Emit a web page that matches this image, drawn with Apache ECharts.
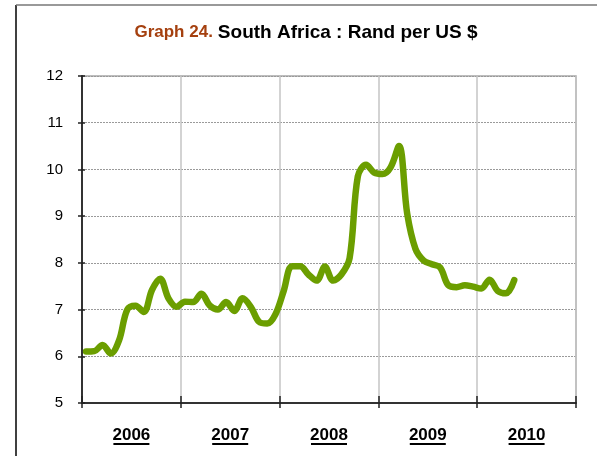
<!DOCTYPE html>
<html>
<head>
<meta charset="utf-8">
<script src="https://cdn.jsdelivr.net/npm/echarts@6/dist/echarts.min.js"></script>
<style>
html, body { margin: 0; padding: 0; background: #fff; }
#chart { width: 597px; height: 456px; }
</style>
</head>
<body>
<div id="chart"></div>
<script>
// years shown under the axis
var years = ['2006', '2007', '2008', '2009', '2010'];
// monthly rand per US $, Jan 2006 .. May 2010
var rand = [
  6.10, 6.11, 6.24, 6.06, 6.34, 7.00, 7.08, 6.95, 7.42, 7.66, 7.24, 7.06,
  7.17, 7.16, 7.34, 7.09, 7.00, 7.16, 6.97, 7.24, 7.06, 6.74, 6.70, 6.90,
  7.40, 7.93, 7.93, 7.75, 7.62, 7.92, 7.62, 7.75, 8.10, 9.85, 10.10, 9.93,
  9.90, 10.05, 10.50, 9.05, 8.30, 8.05, 7.97, 7.90, 7.52, 7.48, 7.52, 7.49,
  7.45, 7.64, 7.40, 7.35, 7.63
];

var chart = echarts.init(document.getElementById('chart'));
var pts = rand.map(function (v, i) { return [i + 0.5, v]; });
var font = "'Liberation Sans', Arial, sans-serif";

var option = {
  animation: false,
  title: {
    text: '{a|Graph 24.} {b|South Africa : Rand per US $}',
    left: 301,
    textAlign: 'center',
    top: 18,
    textStyle: {
      rich: {
        a: { color: '#a5400f', fontSize: 17, fontWeight: 'bold', fontFamily: font },
        b: { color: '#000', fontSize: 19, fontWeight: 'bold', fontFamily: font }
      }
    }
  },
  graphic: [
    { type: 'line', shape: { x1: 16, y1: 5, x2: 16, y2: 456 }, style: { stroke: '#000', lineWidth: 1.5 } },
    { type: 'line', shape: { x1: 16, y1: 5, x2: 597, y2: 5 }, style: { stroke: '#777', lineWidth: 1.5 } }
  ],
  grid: {
    left: 82, right: 21, top: 76, bottom: 53,
    show: true, borderColor: '#a8a8a8', borderWidth: 1.5
  },
  xAxis: [
    {
      type: 'value', min: 0, max: 60, interval: 12,
      axisLine: { lineStyle: { color: '#333', width: 2 } },
      axisTick: { length: 5, lineStyle: { color: '#222', width: 1.5 } },
      axisLabel: { show: false },
      splitLine: { show: true, lineStyle: { color: '#c4c4c4', width: 1.5 } }
    },
    {
      type: 'value', min: 0, max: 60, interval: 12, position: 'bottom',
      axisLine: { show: false },
      axisTick: { inside: true, length: 7, lineStyle: { color: '#222', width: 1.5 } },
      axisLabel: { show: false },
      splitLine: { show: false }
    },
    {
      type: 'value', min: 0, max: 60, interval: 6, position: 'bottom',
      axisLine: { show: false },
      axisTick: { show: false },
      splitLine: { show: false },
      axisLabel: {
        margin: 24,
        formatter: function (v) {
          if (v % 12 !== 6) return '';
          return '{y|' + years[(v - 6) / 12] + '}\n{u|}';
        },
        rich: {
          y: { fontSize: 17, fontWeight: 'bold', fontFamily: font, color: '#000', lineHeight: 16 },
          u: { width: 36, height: 2, backgroundColor: '#000' }
        }
      }
    }
  ],
  yAxis: [
    {
      type: 'value', min: 5, max: 12, interval: 1,
      axisLine: { show: true, lineStyle: { color: '#333', width: 2 } },
      axisTick: { show: true, length: 4, lineStyle: { color: '#222', width: 1.5 } },
      axisLabel: { color: '#000', fontSize: 15, fontFamily: font, margin: 19 },
      splitLine: { show: true, lineStyle: { color: '#9a9a9a', type: [2, 1], width: 1 } }
    },
    {
      type: 'value', min: 5, max: 12, interval: 1, position: 'left',
      axisLine: { show: false },
      axisTick: { show: true, inside: true, length: 3, lineStyle: { color: '#222', width: 1.5 } },
      axisLabel: { show: false },
      splitLine: { show: false }
    }
  ],
  series: [
    {
      type: 'line',
      data: pts,
      smooth: 0.35,
      symbol: 'none',
      lineStyle: { color: '#6b9e00', width: 6.5, cap: 'round', join: 'round' }
    }
  ]
};
chart.setOption(option);
</script>
</body>
</html>
